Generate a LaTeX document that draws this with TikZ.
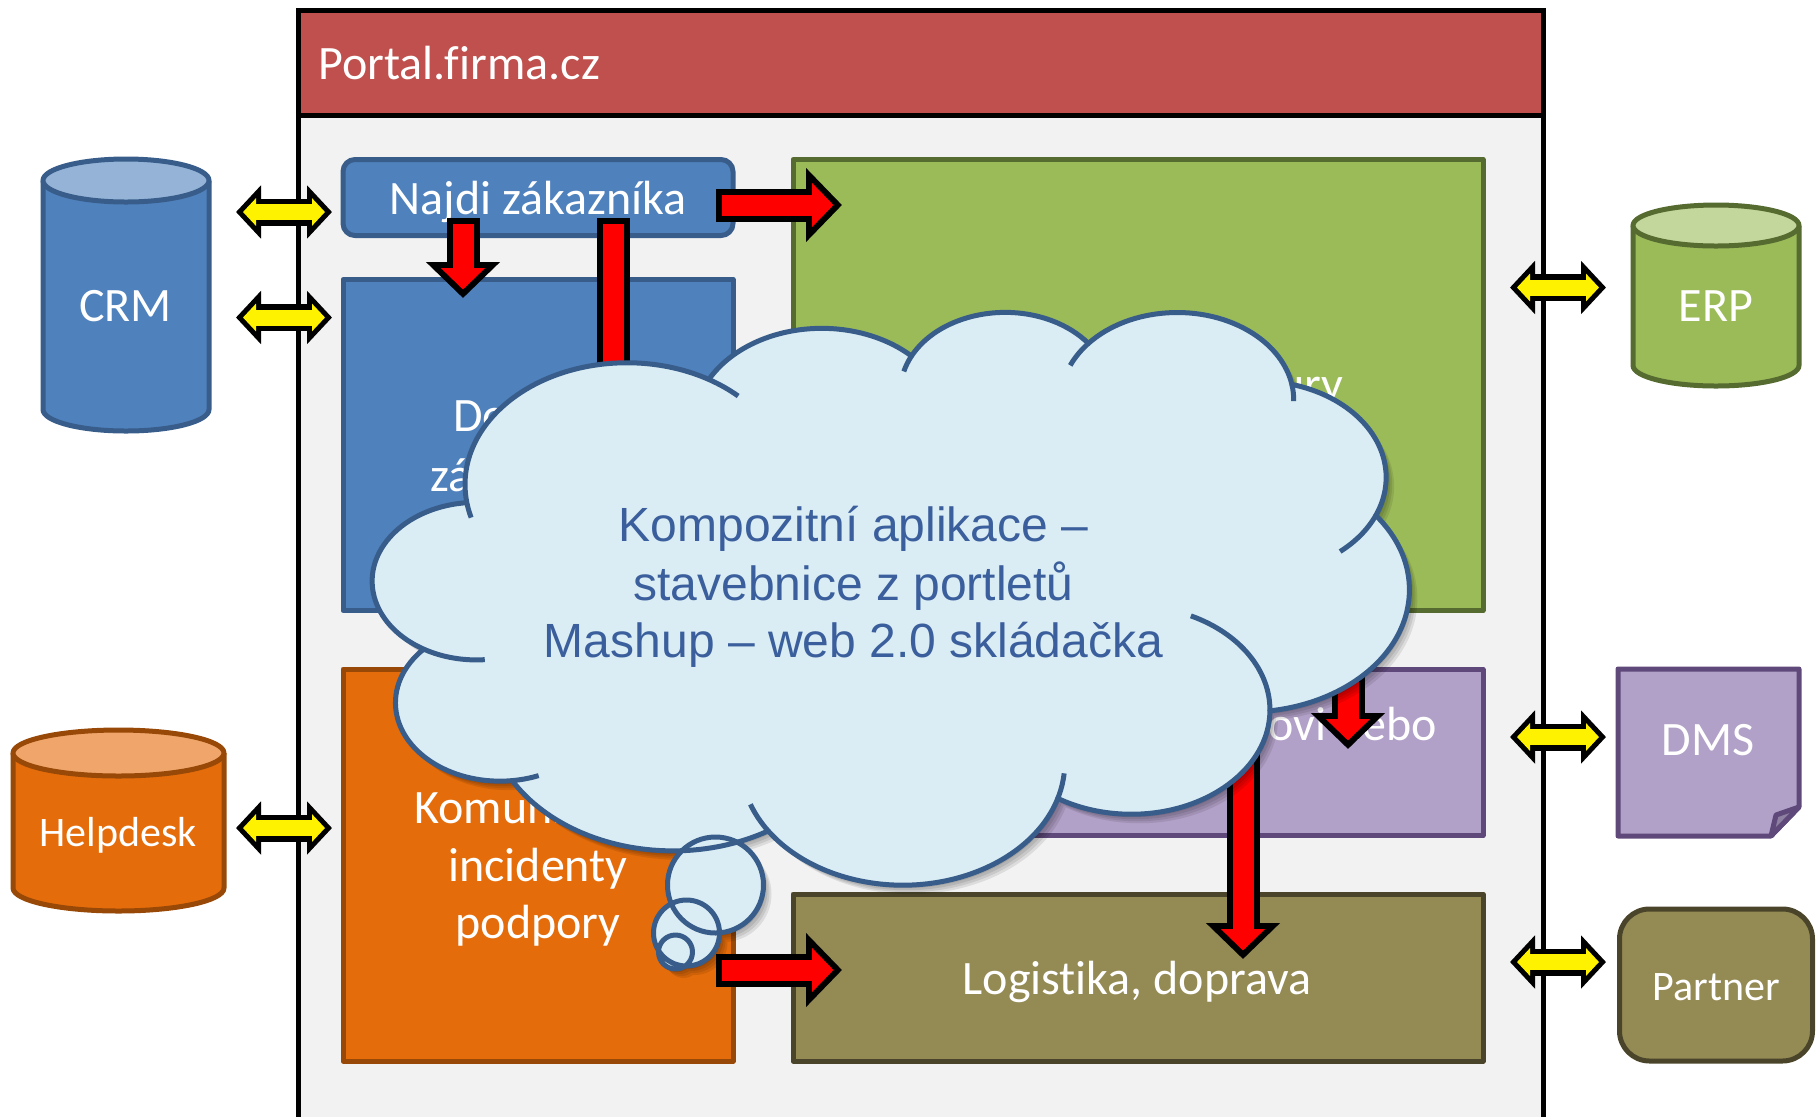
\documentclass[tikz,border=0pt]{standalone}
\usepackage{fontspec}
\setmainfont[Ligatures=NoCommon]{Carlito}
\newfontfamily\arialf{Liberation Sans}
\usetikzlibrary{arrows.meta}
\def\u{0.5pt}
\definecolor{frameF}{HTML}{F2F2F2}
\definecolor{titleF}{HTML}{C0504D}
\definecolor{blueF}{HTML}{4F81BD}\definecolor{blueS}{HTML}{385D8A}\definecolor{blueT}{HTML}{95B3D7}
\definecolor{greenF}{HTML}{9BBB59}\definecolor{greenS}{HTML}{566B30}\definecolor{greenT}{HTML}{C3D69B}
\definecolor{orangeF}{HTML}{E46C0A}\definecolor{orangeS}{HTML}{984807}\definecolor{orangeT}{HTML}{F0A66B}
\definecolor{purpleF}{HTML}{B1A0C7}\definecolor{purpleS}{HTML}{5F497A}\definecolor{purpleT}{HTML}{8E80A0}
\definecolor{oliveF}{HTML}{948A54}\definecolor{oliveS}{HTML}{4A452A}
\definecolor{cloudF}{HTML}{DBEDF4}\definecolor{cloudT}{HTML}{3A5F9C}
\tikzset{
  box/.style={draw=#1,line width=5*\u,line join=round,inner sep=0pt,outer sep=0pt},
  bigtext/.style={text=white,font=\fontsize{24}{29}\selectfont,anchor=base,inner sep=0pt},
  smalltext/.style={text=white,font=\fontsize{21}{25}\selectfont,anchor=base,inner sep=0pt},
  cloudtext/.style={text=cloudT,font=\arialf\fontsize{24}{29}\selectfont,anchor=base,inner sep=0pt},
  redout/.style={draw=black,line width=33*\u,-{Triangle[length=36*\u,width=72*\u]}},
  redin/.style={draw=red,line width=21*\u,shorten <=6*\u,shorten >=8.5*\u,-{Triangle[length=21.5*\u,width=43*\u]}},
  yelout/.style={draw=black,line width=27*\u,{Triangle[length=25*\u,width=52*\u]}-{Triangle[length=25*\u,width=52*\u]}},
  yelin/.style={draw=yellow,line width=16*\u,shorten <=7*\u,shorten >=7*\u,{Triangle[length=13*\u,width=27*\u]}-{Triangle[length=13*\u,width=27*\u]}},
  cloudline/.style={draw=blueS,line width=5*\u,line join=round},
}
\newcommand{\redarrow}[2]{\draw[redout] (#1) -- (#2);\draw[redin] (#1) -- (#2);}
\newcommand{\yelarrow}[2]{\draw[yelout] (#1) -- (#2);\draw[yelin] (#1) -- (#2);}
% the arcs of the cloud: name, radii, visual start angle, visual sweep
\newcommand{\cloudarc}[5]{%
  \pgfmathsetmacro\rxv{#2/10}\pgfmathsetmacro\ryv{#3/10}%
  \pgfmathsetmacro\ta{atan2(#2*sin(#4),#3*cos(#4))}%
  \pgfmathsetmacro\tb{atan2(#2*sin(#4+#5),#3*cos(#4+#5))}%
  \pgfmathsetmacro\tc{\tb<\ta ? \tb+360 : \tb}%
  \tikzset{#1/.style/.expanded={start angle=\ta,end angle=\tc,x radius=\rxv,y radius=\ryv}}%
}
% a tick: the same ellipse carried on from a visual angle by a parametric step
\newcommand{\cloudtick}[5]{%
  \pgfmathsetmacro\rxv{#2/10}\pgfmathsetmacro\ryv{#3/10}%
  \pgfmathsetmacro\ta{atan2(#2*sin(#4),#3*cos(#4))}%
  \pgfmathsetmacro\tb{\ta+#5}%
  \tikzset{#1/.style/.expanded={start angle=\ta,end angle=\tb,x radius=\rxv,y radius=\ryv}}%
}
\cloudarc{aA}{6753}{9190}{-190.487}{123.781}
\cloudarc{aB}{5333}{7267}{-144.102}{89.945}
\cloudarc{aC}{4365}{5945}{-145.808}{99.723}
\cloudarc{aD}{4857}{6595}{-130.986}{117.242}
\cloudarc{aE}{5333}{7273}{-78.709}{109.027}
\cloudarc{aF}{6775}{9220}{-46.267}{130.269}
\cloudarc{aG}{5785}{7867}{0.625}{114.033}
\cloudarc{aH}{6752}{9215}{22.452}{115.173}
\cloudarc{aI}{7720}{10543}{66.243}{75.711}
\cloudarc{aJ}{4360}{5918}{-274.942}{146.736}
\cloudarc{aK}{4345}{5945}{-246.829}{152.519}
\cloudtick{tA}{6753}{9190}{-190.487}{-8}
\cloudtick{tB}{6753}{9190}{-66.706}{13}
\cloudtick{tC}{4365}{5945}{-145.808}{-12}
\cloudtick{tD}{4857}{6595}{-130.986}{-17}
\cloudtick{tE}{4857}{6595}{-13.744}{11}
\cloudtick{tF}{5333}{7273}{30.318}{27}
\cloudtick{tG}{5785}{7867}{0.625}{-65}
\cloudtick{tH}{6752}{9215}{22.452}{-12}
\cloudtick{tI}{6752}{9215}{137.625}{14}
\cloudtick{tJ}{4360}{5918}{-274.942}{-15}
\cloudtick{tK}{4345}{5945}{-246.829}{-35}
% x1, x2, y top, y of the lower edge of the top ellipse, y bottom, fill, stroke, top fill
\newcommand{\cyl}[8]{%
  \pgfmathsetmacro\cx{(#1+#2)/2}\pgfmathsetmacro\rx{(#2-#1)/2}\pgfmathsetmacro\ry{(#4-#3)/2}%
  \pgfmathsetmacro\cy{(#3+#4)/2}\pgfmathsetmacro\by{#5-\ry}%
  \draw[box=#7,fill=#6] (#1,\cy) -- (#1,\by) arc[start angle=180,end angle=0,x radius=\rx,y radius=\ry] -- (#2,\cy);
  \draw[box=#7,fill=#8] (\cx,\cy) ellipse[x radius=\rx,y radius=\ry];
}
\def\cloudouter{(390,1437) coordinate (p0)
  arc[aA] coordinate (p1) arc[aB] coordinate (p2) arc[aC] coordinate (p3)
  arc[aD] coordinate (p4) arc[aE] coordinate (p5) arc[aF] coordinate (p6)
  arc[aG] coordinate (p7) arc[aH] coordinate (p8) arc[aI] coordinate (p9)
  arc[aJ] coordinate (p10) arc[aK] -- cycle}
\def\bubbles{(715.5,885) circle[radius=48] (686.5,933) circle[radius=33] (675.5,952) circle[radius=17]}
\tikzset{cloudbox/.style={shift={(373,310.5)},x=0.11991pt,y=-0.066262pt}}
\begin{document}
\begin{tikzpicture}[x=\u,y=-\u]
\useasboundingbox (0,0) rectangle (1817,1116);
\clip (0,0) rectangle (1817,1116);
% frame
\draw[line width=5*\u,fill=frameF] (298,10) rectangle (1543,1200);
\draw[line width=5*\u,fill=titleF] (298,10) rectangle (1543,115);
\node[bigtext,anchor=base west] (title) at (318,79) {Portal.firma.cz};
% boxes
\node[box=blueS,fill=blueF,rounded corners=6pt,minimum width=390*\u,minimum height=76*\u] (najdi) at (538,197.5) {};
\node[box=blueS,fill=blueF,minimum width=390*\u,minimum height=331*\u] (detail) at (538,445) {};
\node[box=greenS,fill=greenF,minimum width=690*\u,minimum height=451*\u] (green) at (1138,385) {};
\node[box=orangeS,fill=orangeF,minimum width=390*\u,minimum height=392*\u] (komun) at (538,865) {};
\node[box=purpleS,fill=purpleF,minimum width=690*\u,minimum height=166*\u] (purple) at (1138,752.5) {};
\node[box=oliveS,fill=oliveF,minimum width=690*\u,minimum height=167*\u] (logist) at (1138,977.5) {};
\node[box=oliveS,fill=oliveF,rounded corners=15pt,minimum width=193*\u,minimum height=152*\u] (partner) at (1716,985) {};
% cylinders and document
\cyl{43}{209}{159}{202}{431}{blueF}{blueS}{blueT}
\cyl{1633}{1799}{205}{246}{386}{greenF}{greenS}{greenT}
\cyl{13}{224}{730}{776}{911}{orangeF}{orangeS}{orangeT}
\draw[box=purpleS,fill=purpleF] (1618,669) -- (1799,669) -- (1799,807) -- (1771,836) -- (1618,836) -- cycle;
\draw[box=purpleS,fill=purpleT] (1799,807) -- (1776,815) -- (1771,836) -- cycle;
% texts
\node[bigtext] (t1) at (538,214) {Najdi zákazníka};
\node[bigtext,anchor=base west] (t2) at (453,431) {Do};
\node[bigtext,anchor=base west] (t3) at (430,491) {zá};
\node[bigtext,anchor=base east] (t4) at (1344,400) {ury};
\node[bigtext,anchor=base east] (t5) at (1437,740) {ovi nebo};
\node[bigtext,anchor=base west] (t6) at (414,823) {Komuni};
\node[bigtext] (t7) at (538,881) {incidenty};
\node[bigtext] (t8) at (538,938) {podpory};
\node[bigtext] (t9) at (1137,994) {Logistika, doprava};
\node[bigtext] (crm) at (125.5,321) {CRM};
\node[bigtext] (erp) at (1716,321) {ERP};
\node[smalltext] (help) at (118,846) {Helpdesk};
\node[bigtext] (dms) at (1708,755) {DMS};
\node[smalltext] (part) at (1716,1000) {Partner};
% connector ends
\coordinate (r1a) at (716,205);\coordinate (r1b) at (842,205);
\coordinate (r2a) at (463,218);\coordinate (r2b) at (463,298);
\coordinate (r3a) at (613,218);\coordinate (r3b) at (613,520);
\coordinate (r4a) at (1348,600);\coordinate (r4b) at (1348,749);
\coordinate (r5a) at (1243,700);\coordinate (r5b) at (1243,959);
\coordinate (r6a) at (716,970);\coordinate (r6b) at (842,970);
\coordinate (y1a) at (236,212);\coordinate (y1b) at (332,212);
\coordinate (y2a) at (236,317.5);\coordinate (y2b) at (332,317.5);
\coordinate (y3a) at (236,828);\coordinate (y3b) at (332,828);
\coordinate (y4a) at (1510,287.5);\coordinate (y4b) at (1606,287.5);
\coordinate (y5a) at (1510,737);\coordinate (y5b) at (1606,737);
\coordinate (y6a) at (1510,962);\coordinate (y6b) at (1606,962);
\redarrow{r1a}{r1b}\redarrow{r2a}{r2b}\redarrow{r3a}{r3b}
\redarrow{r4a}{r4b}\redarrow{r5a}{r5b}\redarrow{r6a}{r6b}
\yelarrow{y1a}{y1b}\yelarrow{y2a}{y2b}\yelarrow{y3a}{y3b}
\yelarrow{y4a}{y4b}\yelarrow{y5a}{y5b}\yelarrow{y6a}{y6b}
% cloud callout: shadow, fill, outline
\foreach \s in {2,4,6,8}{
  \begin{scope}[shift={(\s,\s+1)}]
    \fill[black,fill opacity=.09] \bubbles;
    \begin{scope}[cloudbox]
      \fill[black,fill opacity=.09] \cloudouter;
    \end{scope}
  \end{scope}
}
\fill[cloudF] \bubbles;
\begin{scope}[cloudbox]
  \fill[cloudF] \cloudouter;
\end{scope}
\draw[cloudline] \bubbles;
\begin{scope}[cloudbox]
  \draw[cloudline] \cloudouter;
  \draw[cloudline] (p0) arc[tA];
  \draw[cloudline] (p1) arc[tB];
  \draw[cloudline] (p2) arc[tC];
  \draw[cloudline] (p3) arc[tD];
  \draw[cloudline] (p4) arc[tE];
  \draw[cloudline] (p5) arc[tF];
  \draw[cloudline] (p6) arc[tG];
  \draw[cloudline] (p7) arc[tH];
  \draw[cloudline] (p8) arc[tI];
  \draw[cloudline] (p9) arc[tJ];
  \draw[cloudline] (p10) arc[tK];
\end{scope}
\node[cloudtext] (c1) at (853.5,541) {Kompozitní aplikace –};
\node[cloudtext] (c2) at (853.5,600) {stavebnice z portletů};
\node[cloudtext] (c3) at (853.5,657) {Mashup – web 2.0 skládačka};
\end{tikzpicture}
\end{document}
